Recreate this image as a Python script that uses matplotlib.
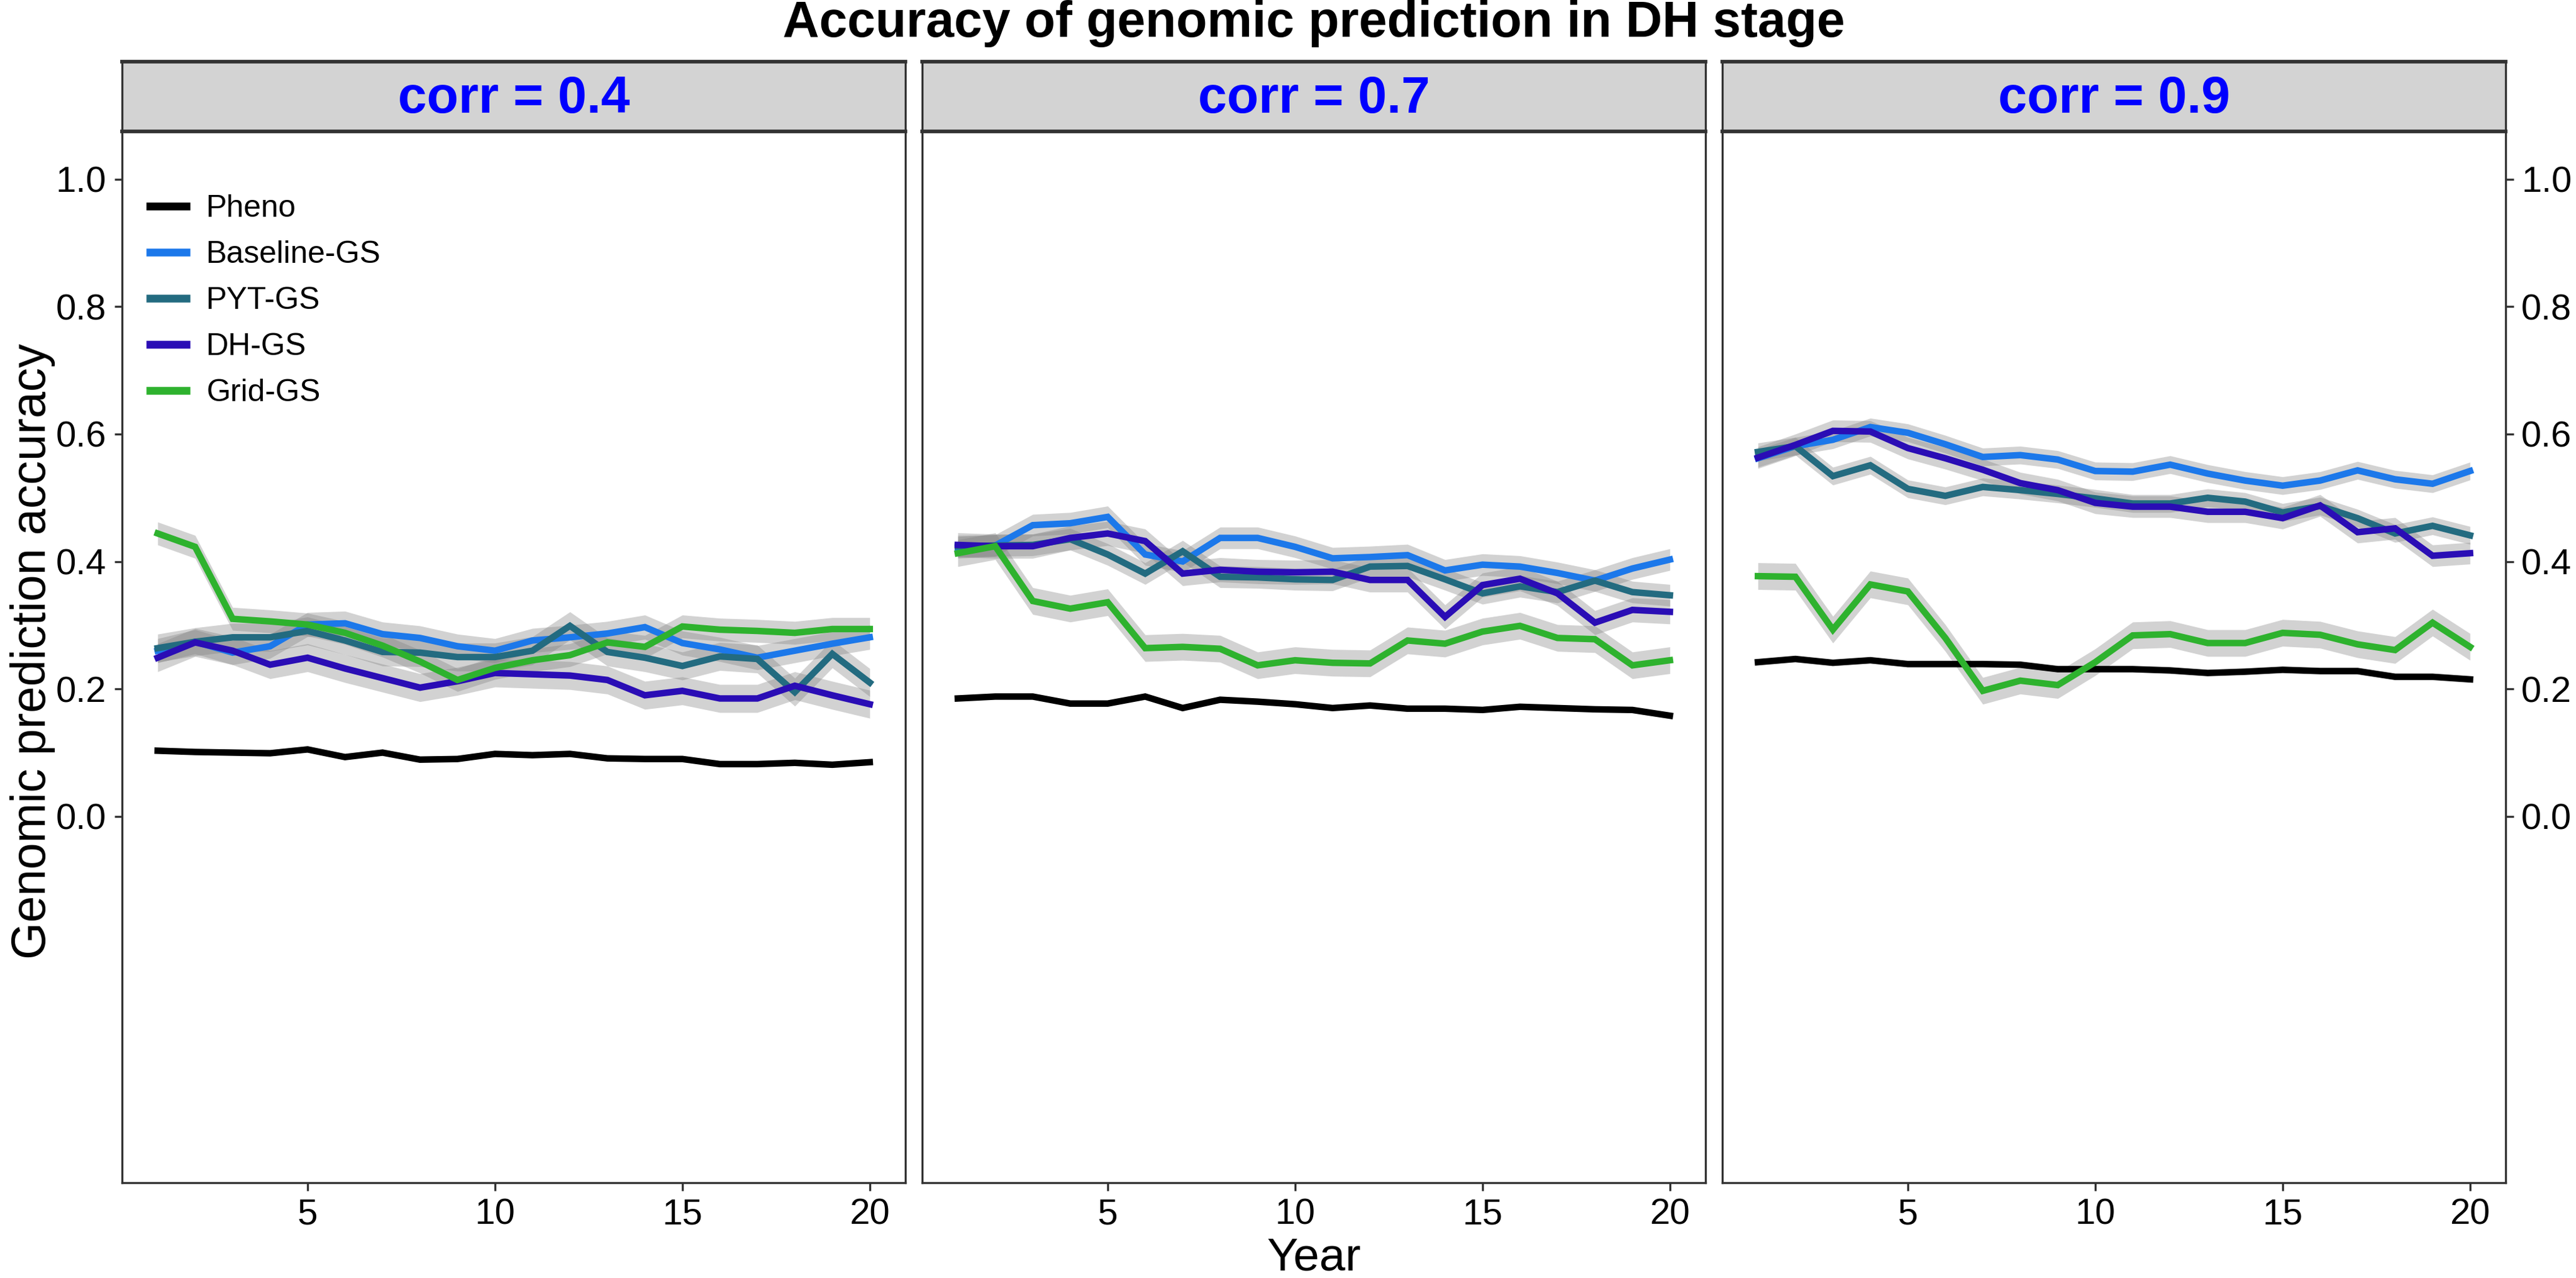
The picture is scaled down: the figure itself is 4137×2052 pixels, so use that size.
import numpy as np
import matplotlib
matplotlib.use("Agg")
import matplotlib.pyplot as plt

plt.rcParams['font.family'] = ['Liberation Sans', 'DejaVu Sans']

years = list(range(1, 21))
series_names = ["Pheno", "Baseline-GS", "PYT-GS", "DH-GS", "Grid-GS"]
series_colors = ["#000000", "#1C78EA", "#236B80", "#2A0DB5", "#2EB22E"]
panel_titles = ["corr = 0.4", "corr = 0.7", "corr = 0.9"]

# ---- corr = 0.4 ----
pheno_04 = [0.103, 0.101, 0.100, 0.099, 0.105, 0.093, 0.100, 0.089, 0.090, 0.098,
            0.096, 0.098, 0.091, 0.090, 0.090, 0.082, 0.082, 0.084, 0.081, 0.085]
baseline_04 = [0.260, 0.274, 0.257, 0.267, 0.301, 0.303, 0.286, 0.280, 0.267, 0.260,
               0.276, 0.281, 0.287, 0.297, 0.272, 0.262, 0.249, 0.260, 0.271, 0.281]
pyt_04 = [0.264, 0.274, 0.281, 0.281, 0.291, 0.276, 0.258, 0.257, 0.250, 0.250,
          0.260, 0.299, 0.258, 0.249, 0.236, 0.251, 0.247, 0.195, 0.255, 0.210]
dh_04 = [0.249, 0.273, 0.260, 0.238, 0.249, 0.232, 0.217, 0.202, 0.212, 0.225,
         0.223, 0.221, 0.214, 0.190, 0.197, 0.185, 0.185, 0.205, 0.190, 0.176]
grid_04 = [0.444, 0.423, 0.310, 0.306, 0.301, 0.288, 0.268, 0.243, 0.214, 0.233,
           0.245, 0.253, 0.273, 0.266, 0.298, 0.293, 0.291, 0.288, 0.294, 0.294]

# ---- corr = 0.7 ----
pheno_07 = [0.185, 0.188, 0.188, 0.177, 0.177, 0.188, 0.170, 0.183, 0.180, 0.176,
            0.170, 0.174, 0.169, 0.169, 0.167, 0.172, 0.170, 0.168, 0.167, 0.158]
baseline_07 = [0.422, 0.425, 0.457, 0.460, 0.470, 0.411, 0.400, 0.437, 0.437, 0.423,
               0.405, 0.407, 0.410, 0.386, 0.395, 0.392, 0.382, 0.370, 0.389, 0.403]
pyt_07 = [0.424, 0.425, 0.426, 0.435, 0.411, 0.381, 0.416, 0.376, 0.375, 0.372,
          0.371, 0.392, 0.393, 0.372, 0.350, 0.361, 0.352, 0.370, 0.352, 0.347]
dh_07 = [0.426, 0.424, 0.424, 0.437, 0.444, 0.432, 0.381, 0.387, 0.384, 0.383,
         0.384, 0.371, 0.371, 0.313, 0.363, 0.373, 0.350, 0.304, 0.324, 0.321]
grid_07 = [0.413, 0.424, 0.338, 0.326, 0.336, 0.264, 0.266, 0.263, 0.237, 0.245,
           0.241, 0.240, 0.276, 0.271, 0.290, 0.299, 0.280, 0.278, 0.237, 0.245]

# ---- corr = 0.9 ----
pheno_09 = [0.242, 0.247, 0.241, 0.245, 0.239, 0.239, 0.239, 0.238, 0.231, 0.231,
            0.231, 0.229, 0.225, 0.227, 0.230, 0.228, 0.228, 0.219, 0.219, 0.215]
baseline_09 = [0.562, 0.581, 0.591, 0.611, 0.602, 0.584, 0.564, 0.567, 0.560, 0.542,
               0.541, 0.552, 0.538, 0.527, 0.519, 0.527, 0.543, 0.529, 0.522, 0.542]
pyt_09 = [0.572, 0.581, 0.534, 0.551, 0.514, 0.503, 0.517, 0.512, 0.506, 0.499,
          0.491, 0.491, 0.500, 0.494, 0.477, 0.487, 0.468, 0.444, 0.456, 0.441]
dh_09 = [0.563, 0.583, 0.605, 0.604, 0.578, 0.562, 0.544, 0.523, 0.512, 0.492,
         0.486, 0.486, 0.478, 0.478, 0.468, 0.488, 0.446, 0.452, 0.409, 0.413]
grid_09 = [0.377, 0.376, 0.293, 0.364, 0.353, 0.280, 0.197, 0.213, 0.206, 0.242,
           0.284, 0.286, 0.272, 0.272, 0.288, 0.285, 0.270, 0.261, 0.304, 0.266]

# ribbon half-widths (standard errors) per series, per panel
se_04 = [0.003, 0.019, 0.022, 0.022, 0.018]
se_07 = [0.003, 0.017, 0.017, 0.019, 0.021]
se_09 = [0.003, 0.014, 0.014, 0.017, 0.021]

panels = [
    ([pheno_04, baseline_04, pyt_04, dh_04, grid_04], se_04),
    ([pheno_07, baseline_07, pyt_07, dh_07, grid_07], se_07),
    ([pheno_09, baseline_09, pyt_09, dh_09, grid_09], se_09),
]

W, H = 4137, 2052
dpi = 300
fig = plt.figure(figsize=(W / dpi, H / dpi), dpi=dpi)

left0 = 196
pw = 1258
gap = 27
ax_top = 211
ax_bot = 1899
strip_top = 99
edge = "#333333"

axes = []
for i, (vals, se) in enumerate(panels):
    lx = left0 + i * (pw + gap)
    ax = fig.add_axes([lx / W, 1 - ax_bot / H, pw / W, (ax_bot - ax_top) / H])
    sax = fig.add_axes([lx / W, 1 - ax_top / H, pw / W, (ax_top - strip_top) / H])
    axes.append(ax)
    x = np.array(years)
    for name, col, v, s in zip(series_names, series_colors, vals, se):
        v = np.array(v)
        ax.fill_between(x, v - s, v + s, color="#808080", alpha=0.35, lw=0)
        ax.plot(x, v, color=col, lw=2.5, label=name, solid_joinstyle="miter")
    ax.set_xlim(0.05, 20.95)
    ax.set_ylim(-0.575, 1.075)
    ax.set_xticks([5, 10, 15, 20])
    ax.set_yticks([0.0, 0.2, 0.4, 0.6, 0.8, 1.0])
    ax.set_yticklabels(["0.0", "0.2", "0.4", "0.6", "0.8", "1.0"])
    for sp in ax.spines.values():
        sp.set_color(edge)
        sp.set_linewidth(0.8)
    ax.tick_params(axis="both", colors=edge, labelcolor="black", length=3.0,
                   width=0.8, labelsize=14, pad=3)
    if i == 0:
        ax.tick_params(axis="y", left=True, right=False, labelleft=True, labelright=False)
    elif i == 2:
        ax.tick_params(axis="y", left=False, right=True, labelleft=False, labelright=True)
    else:
        ax.tick_params(axis="y", left=False, right=False, labelleft=False, labelright=False)

    sax.set_facecolor("#D3D3D3")
    sax.set_xticks([])
    sax.set_yticks([])
    for sp in sax.spines.values():
        sp.set_color(edge)
        sp.set_linewidth(0.8)
    sax.spines["top"].set_linewidth(1.4)
    sax.spines["bottom"].set_linewidth(1.4)
    sax.text(0.5, 0.46, panel_titles[i], transform=sax.transAxes, ha="center",
             va="center", color="#0000FF", fontsize=20, fontweight="bold")

leg = axes[0].legend(loc="upper left", bbox_to_anchor=(0.02, 0.952), frameon=False,
                     fontsize=12, handlelength=1.16, handletextpad=0.64,
                     labelspacing=0.56, borderaxespad=0.0)
for line in leg.get_lines():
    line.set_linewidth(3.0)

cx = (left0 + left0 + 3 * pw + 2 * gap) / 2 / W
fig.text(cx, 1 - 38 / H, "Accuracy of genomic prediction in DH stage", ha="center",
         va="center", fontsize=19.5, fontweight="bold")
fig.text(cx, 1 - 2020 / H, "Year", ha="center", va="center", fontsize=18)
fig.text(53 / W, 1 - 1046 / H, "Genomic prediction accuracy", ha="center",
         va="center", rotation=90, fontsize=18.4)

fig.savefig("out.png", dpi=dpi)
